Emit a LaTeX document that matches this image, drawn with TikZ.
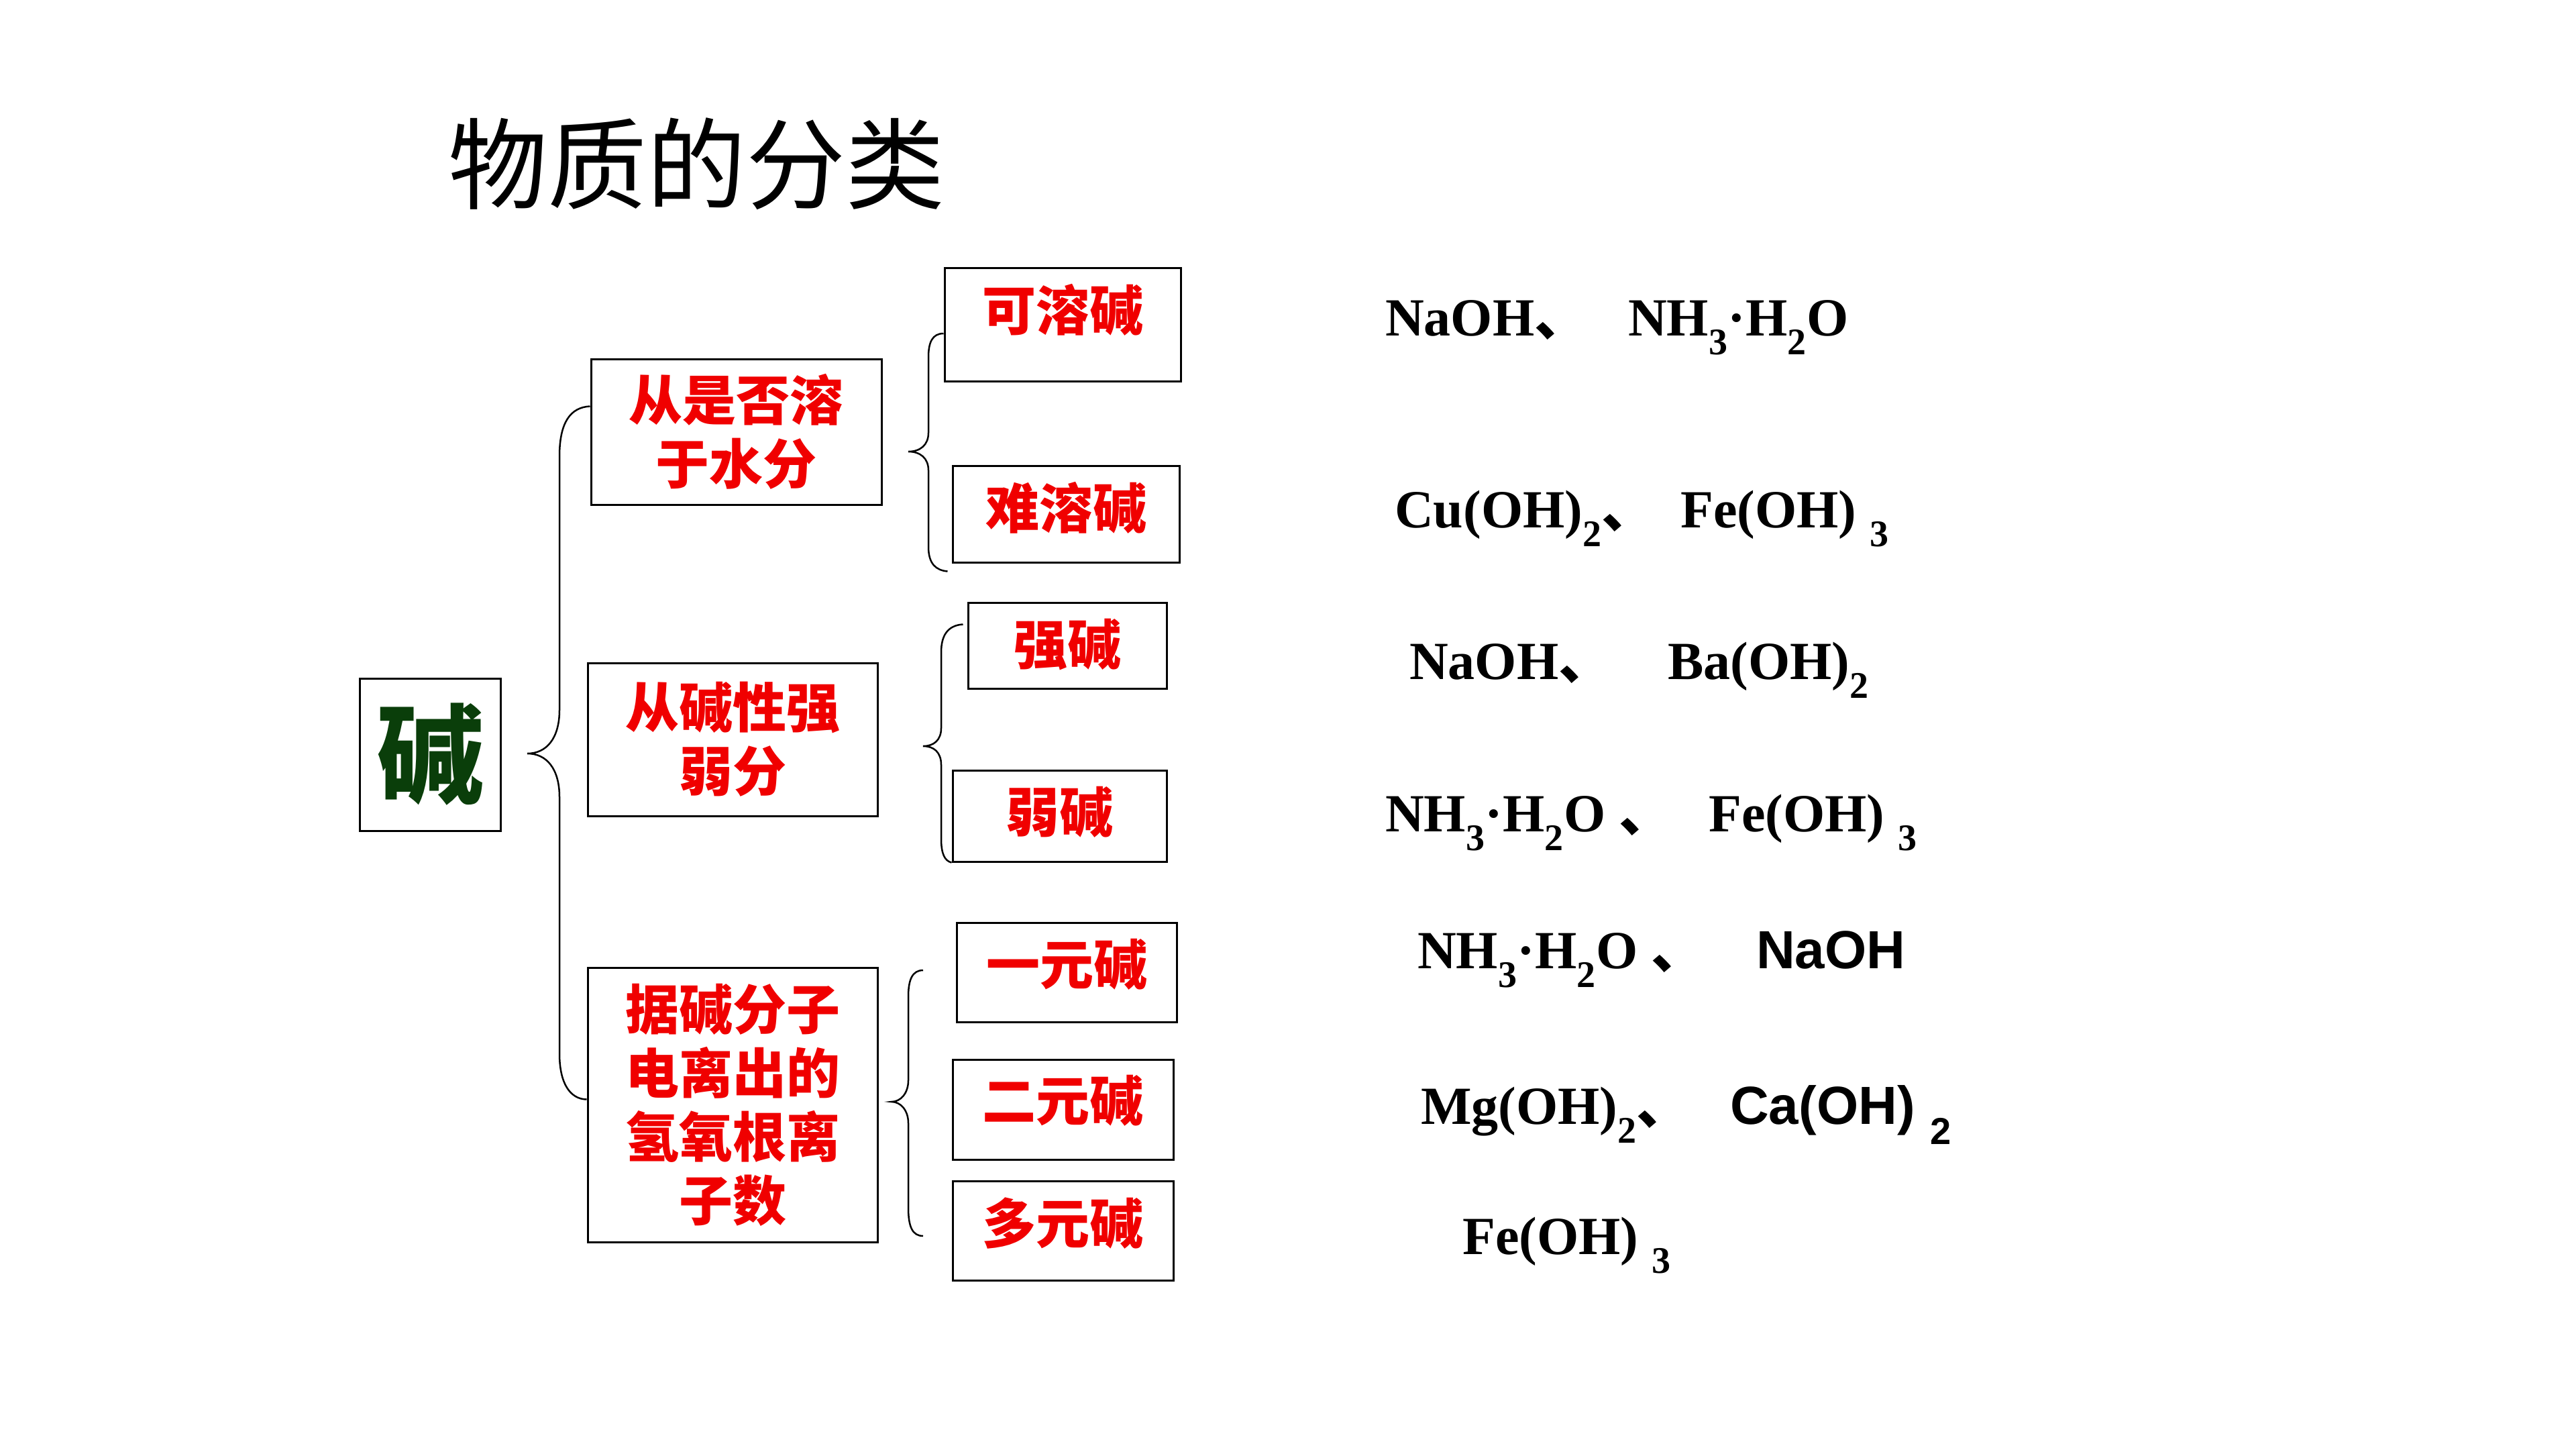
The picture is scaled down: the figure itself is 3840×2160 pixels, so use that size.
\documentclass[tikz,border=0pt]{standalone}
\usepackage{fontspec}
\setmainfont{Liberation Serif}
\newfontfamily\cjk{Noto Sans CJK SC}
\newfontfamily\sansb{Liberation Sans}
\usetikzlibrary{calc}
\definecolor{kgreen}{RGB}{10,62,10}
\definecolor{kred}{RGB}{240,0,0}
\newcommand\sbx[1]{\textsubscript{#1}}
\newcommand\dun{{\cjk 、}}
\begin{document}
\begin{tikzpicture}[x=1pt,y=-1pt,
  box/.style={draw=black,line width=3pt,inner sep=0pt,rectangle},
  lbox/.style={box,text=kred,align=center,font=\cjk\bfseries\fontsize{80}{95}\selectfont},
  rbox/.style={box,text=kred,font=\cjk\bfseries\fontsize{80}{95}\selectfont,text height=#1,text depth=10pt},
  rbox/.default=50pt,
  brace/.style={draw=black,line width=2.5pt},
  chem/.style={anchor=base west,inner sep=0pt,font=\bfseries\fontsize{80}{96}\selectfont},
  chems/.style={chem,font=\sansb\bfseries\fontsize{80}{96}\selectfont}
  ]
\useasboundingbox[fill=white] (0,0) rectangle (3840,2160);

% title
\node[font=\cjk\fontsize{148}{160}\selectfont] (title) at (1038,244) {物质的分类};

% root
\node[box,minimum width=210,minimum height=227,text=kgreen,font=\cjk\bfseries\fontsize{160}{170}\selectfont] (K) at (641,1124.5) {碱};

% second level
\node[lbox,minimum width=433,minimum height=217] (A) at (1097.5,643.5) {从是否溶\\于水分};
\node[lbox,minimum width=432,minimum height=228] (B) at (1092,1102) {从碱性强\\弱分};
\node[lbox,minimum width=432,minimum height=409] (C) at (1092,1646.5) {据碱分子\\电离出的\\氢氧根离\\子数};

% third level
\node[rbox=28.8pt,minimum width=352,minimum height=169] (R1) at (1584,483.5) {可溶碱};
\node[rbox=52.8pt,minimum width=338,minimum height=144] (R2) at (1589,766) {难溶碱};
\node[rbox=66.8pt,minimum width=296,minimum height=128] (R3) at (1591,962) {强碱};
\node[rbox=58.8pt,minimum width=319,minimum height=136] (R4) at (1579.5,1216) {弱碱};
\node[rbox=46.8pt,minimum width=328,minimum height=148] (R5) at (1590,1449) {一元碱};
\node[rbox=44.8pt,minimum width=329,minimum height=149] (R6) at (1584.5,1653.5) {二元碱};
\node[rbox=48.8pt,minimum width=329,minimum height=148] (R7) at (1584.5,1834) {多元碱};

% brace end points
\coordinate (b0t) at ($(A.north west)+(0,72)$);
\coordinate (b0tip) at (786,1123);
\coordinate (b0b) at ($(C.west)+(0,-8)$);
\coordinate (b1t) at ($(R1.west)+(0,13.5)$);
\coordinate (b1tip) at (1354,673);
\coordinate (b1b) at ($(R2.south west)+(-6,12)$);
\coordinate (b2t) at ($(R3.north west)+(-6,34)$);
\coordinate (b2tip) at (1376,1112);
\coordinate (b2b) at (R4.south west);
\coordinate (b3t) at (1376,1446);
\coordinate (b3tip) at (1329,1642);
\coordinate (b3b) at (1376,1842);

% braces
\draw[brace] (b0t) .. controls (850,607) and (834,630) .. (834,680) -- (834,1058)
  .. controls (834,1100) and (815,1123) .. (b0tip)
  .. controls (815,1123) and (834,1146) .. (834,1188) -- (834,1570)
  .. controls (834,1615) and (850,1638) .. (b0b);
\draw[brace] (b1t) .. controls (1390,497) and (1384,510) .. (1384,532) -- (1384,645)
  .. controls (1384,663) and (1372,673) .. (b1tip)
  .. controls (1372,673) and (1384,683) .. (1384,701) -- (1384,815)
  .. controls (1384,840) and (1395,850) .. (b1b);
\draw[brace] (b2t) .. controls (1412,932) and (1403,948) .. (1403,972) -- (1403,1085)
  .. controls (1403,1103) and (1392,1112) .. (b2tip)
  .. controls (1392,1112) and (1403,1121) .. (1403,1140) -- (1403,1250)
  .. controls (1403,1272) and (1408,1283) .. (b2b);
\draw[brace] (b3t) .. controls (1360,1446) and (1354,1460) .. (1354,1485) -- (1354,1610)
  .. controls (1354,1630) and (1342,1642) .. (b3tip)
  .. controls (1342,1642) and (1354,1654) .. (1354,1674) -- (1354,1800)
  .. controls (1354,1828) and (1360,1842) .. (b3b);

% formulas
\node[chem] (f1a) at (2065,500) {NaOH\dun};
\node[chem] (f1b) at (2427,500) {NH\sbx{3}·H\sbx{2}O};
\node[chem] (f2a) at (2079,786) {Cu(OH)\sbx{2}\dun};
\node[chem] (f2b) at (2505,786) {Fe(OH) \sbx{3}};
\node[chem] (f3a) at (2101,1012) {NaOH\dun};
\node[chem] (f3b) at (2486,1012) {Ba(OH)\sbx{2}};
\node[chem] (f4a) at (2065,1239) {NH\sbx{3}·H\sbx{2}O \dun};
\node[chem] (f4b) at (2547,1239) {Fe(OH) \sbx{3}};
\node[chem] (f5a) at (2113,1443) {NH\sbx{3}·H\sbx{2}O \dun};
\node[chems] (f5b) at (2618,1443) {NaOH};
\node[chem] (f6a) at (2118,1675) {Mg(OH)\sbx{2}\dun};
\node[chems] (f6b) at (2579,1675) {Ca(OH) \sbx{2}};
\node[chem] (f7a) at (2180,1869) {Fe(OH) \sbx{3}};
\end{tikzpicture}
\end{document}
